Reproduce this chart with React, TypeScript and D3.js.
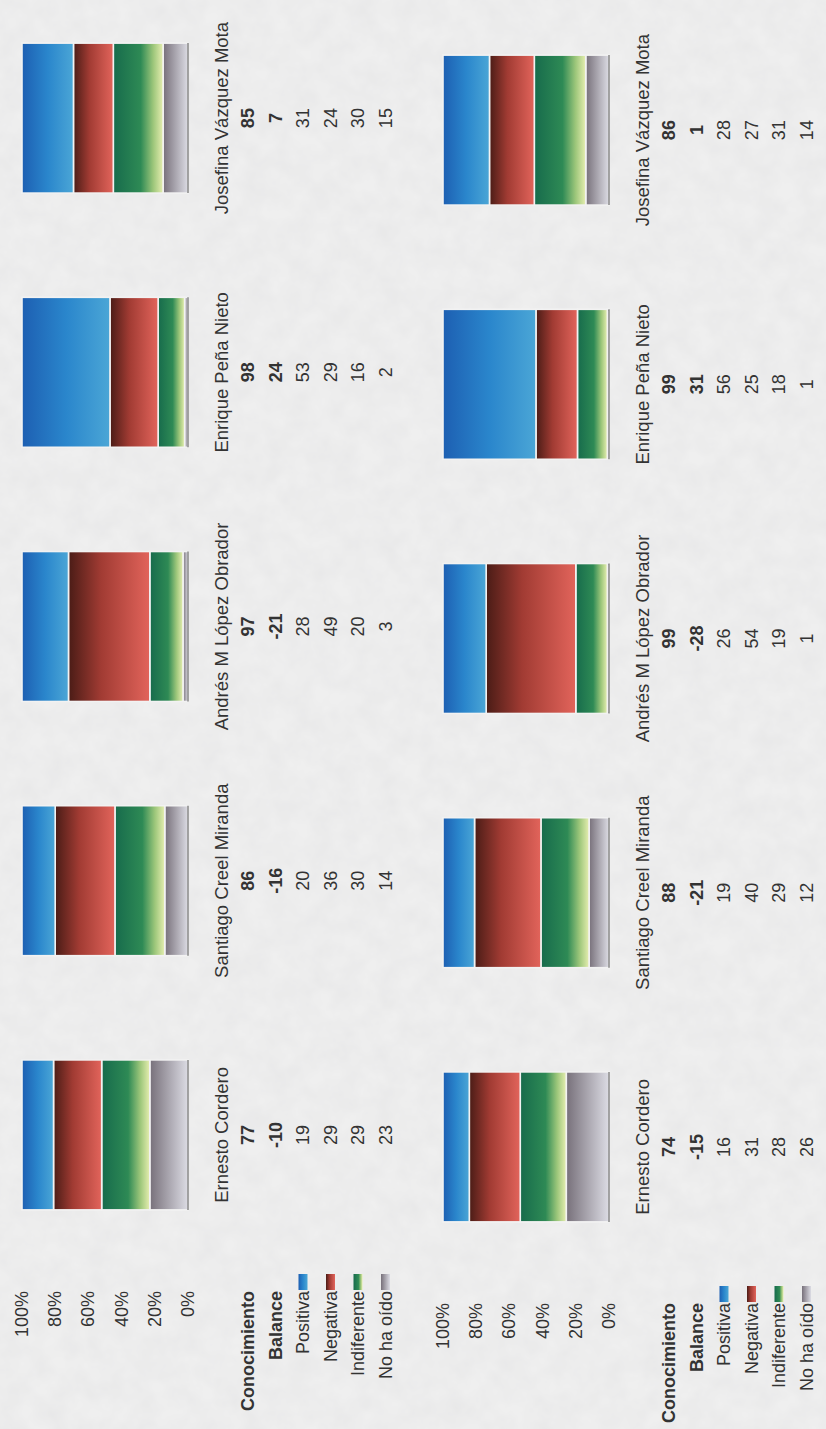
import React from 'react';
import * as d3 from 'd3';

// picture is a scanned page turned on its side: everything is drawn in the
// upright frame (1429 x 826) and then rotated -90deg into the 826 x 1429 page
const W = 826;
const H = 1429;

const candidates = [
  'Ernesto Cordero',
  'Santiago Creel Miranda',
  'Andrés M López Obrador',
  'Enrique Peña Nieto',
  'Josefina Vázquez Mota',
];
const series = ['Positiva', 'Negativa', 'Indiferente', 'No ha oído'];
const tickValues = [0, 0.2, 0.4, 0.6, 0.8, 1];

// first survey (top chart)
const conocimiento1 = [77, 86, 97, 98, 85];
const balance1 = [-10, -16, -21, 24, 7];
const positiva1 = [19, 20, 28, 53, 31];
const negativa1 = [29, 36, 49, 29, 24];
const indiferente1 = [29, 30, 20, 16, 30];
const noHaOido1 = [23, 14, 3, 2, 15];

// second survey (bottom chart)
const conocimiento2 = [74, 88, 99, 99, 86];
const balance2 = [-15, -21, -28, 31, 1];
const positiva2 = [16, 19, 26, 56, 28];
const negativa2 = [31, 40, 54, 25, 27];
const indiferente2 = [28, 29, 19, 18, 31];
const noHaOido2 = [26, 12, 1, 1, 14];

const gradients: Record<string, [number, string][]> = {
  Positiva: [[0, '#1d5fb2'], [0.5, '#2a86cc'], [1, '#4ba6d6']],
  Negativa: [[0, '#4a1c16'], [0.4, '#a13b33'], [1, '#e2645b']],
  Indiferente: [[0, '#176b4c'], [0.55, '#2e8a55'], [0.8, '#9cc67a'], [1, '#e6eeb0']],
  'No ha oído': [[0, '#77707a'], [1, '#dcdce4']],
};
const gid = (s: string) => 'g-' + series.indexOf(s);

const FONT = '"Liberation Sans", Arial, sans-serif';

interface PanelProps {
  dx: number;
  dy: number;
  conocimiento: number[];
  balance: number[];
  positiva: number[];
  negativa: number[];
  indiferente: number[];
  noHaOido: number[];
}

const Panel: React.FC<PanelProps> = (p) => {
  const rows = candidates.map((c, i) => ({
    name: c,
    Positiva: p.positiva[i],
    Negativa: p.negativa[i],
    Indiferente: p.indiferente[i],
    'No ha oído': p.noHaOido[i],
  }));

  const x = d3.scaleBand<string>()
    .domain(candidates)
    .range([167 + p.dx, 1438 + p.dx])
    .paddingInner(0.41)
    .paddingOuter(0.205);

  const y = d3.scaleLinear().domain([0, 1]).range([188, 22]);

  const stack = d3.stack<any>()
    .keys([...series].reverse())
    .offset(d3.stackOffsetExpand);
  const layers = stack(rows);

  const labelRight = 138 + p.dx;
  const tableRows: { label: string; vals: number[]; bold: boolean; key?: string }[] = [
    { label: 'Conocimiento', vals: p.conocimiento, bold: true },
    { label: 'Balance', vals: p.balance, bold: true },
    { label: 'Positiva', vals: p.positiva, bold: false, key: 'Positiva' },
    { label: 'Negativa', vals: p.negativa, bold: false, key: 'Negativa' },
    { label: 'Indiferente', vals: p.indiferente, bold: false, key: 'Indiferente' },
    { label: 'No ha oído', vals: p.noHaOido, bold: false, key: 'No ha oído' },
  ];
  const nameY = 221;
  const rowY = (i: number) => 248 + i * 27.5;
  const fmt = d3.format('.0%');

  return (
    <g transform={`translate(0,${p.dy})`} fontFamily={FONT} fill="#333">
      {tickValues.map((t) => (
        <text key={t} x={labelRight} y={y(t)} textAnchor="end" dominantBaseline="central" fontSize={18}>
          {fmt(t)}
        </text>
      ))}

      {layers.map((layer) => (
        <g key={layer.key}>
          {layer.map((d, i) => (
            <rect
              key={i}
              x={x(d.data.name)}
              y={y(d[1])}
              width={x.bandwidth()}
              height={Math.max(0, y(d[0]) - y(d[1]))}
              fill={`url(#${gid(layer.key)})`}
              stroke="#f2f2f2"
              strokeWidth={1.6}
            />
          ))}
        </g>
      ))}
      {candidates.map((c) => (
        <line key={c} x1={x(c)} x2={(x(c) ?? 0) + x.bandwidth()} y1={y(0)} y2={y(0)} stroke="#6d6d6d" strokeWidth={1.2} />
      ))}

      {candidates.map((c) => (
        <text key={c} x={(x(c) ?? 0) + x.bandwidth() / 2} y={nameY} textAnchor="middle" dominantBaseline="central" fontSize={18.5}>
          {c}
        </text>
      ))}

      {tableRows.map((r, ri) => (
        <g key={r.label}>
          <text x={labelRight} y={rowY(ri)} textAnchor="end" dominantBaseline="central" fontSize={18} fontWeight={r.bold ? 'bold' : 'normal'}>
            {r.label}
          </text>
          {r.key && (
            <rect x={labelRight + 1} y={rowY(ri) - 4.5} width={16} height={9} fill={`url(#${gid(r.key)})`} />
          )}
          {r.vals.map((v, i) => (
            <text
              key={i}
              x={(x(candidates[i]) ?? 0) + x.bandwidth() / 2}
              y={rowY(ri)}
              textAnchor="middle"
              dominantBaseline="central"
              fontSize={18}
              fontWeight={r.bold ? 'bold' : 'normal'}
            >
              {v}
            </text>
          ))}
        </g>
      ))}
    </g>
  );
};

export default function App() {
  return (
    <svg
      width={W}
      height={H}
      style={{ position: 'absolute', left: 0, top: 0, display: 'block' }}
    >
      <defs>
        {series.map((s) => (
          <linearGradient key={s} id={gid(s)} x1="0" y1="0" x2="0" y2="1">
            {gradients[s].map(([o, c]) => (
              <stop key={o} offset={o} stopColor={c} />
            ))}
          </linearGradient>
        ))}
        <filter id="paper" x="0" y="0" width="100%" height="100%">
          <feTurbulence type="fractalNoise" baseFrequency="0.045" numOctaves="3" seed="7" />
          <feColorMatrix values="0 0 0 0 0.55  0 0 0 0 0.55  0 0 0 0 0.57  0.22 0 0 0 -0.05" />
        </filter>
      </defs>
      <rect width={W} height={H} fill="#efefef" />
      <rect width={W} height={H} filter="url(#paper)" />

      <g transform={`translate(0,${H}) rotate(-90)`}>
        <Panel
          dx={0}
          dy={0}
          conocimiento={conocimiento1}
          balance={balance1}
          positiva={positiva1}
          negativa={negativa1}
          indiferente={indiferente1}
          noHaOido={noHaOido1}
        />
        <Panel
          dx={-12}
          dy={421}
          conocimiento={conocimiento2}
          balance={balance2}
          positiva={positiva2}
          negativa={negativa2}
          indiferente={indiferente2}
          noHaOido={noHaOido2}
        />
      </g>
    </svg>
  );
}
